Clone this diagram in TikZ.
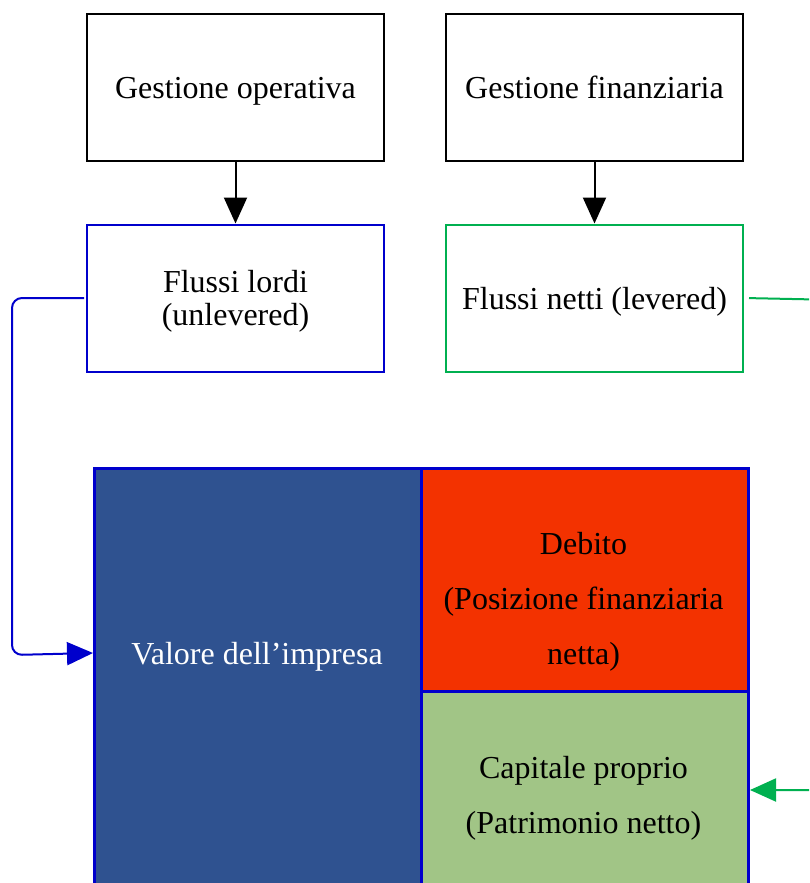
\documentclass[tikz,border=0pt]{standalone}
\usepackage{fontspec}
\setmainfont{Liberation Serif}
\usetikzlibrary{positioning, calc, arrows.meta}

\definecolor{lordiblue}{HTML}{0000CC}
\definecolor{nettigreen}{HTML}{00B050}
\definecolor{valoreblue}{HTML}{2F5290}
\definecolor{debitored}{HTML}{F33200}
\definecolor{capitalegreen}{HTML}{A1C586}

\tikzset{
  box/.style={draw, line width=2pt, minimum width=297pt, minimum height=147pt,
    align=center, inner sep=0pt, text depth=0pt, font=\fontsize{32}{33}\selectfont},
  cell/.style={draw=lordiblue, line width=3pt, minimum width=327pt, inner sep=0pt},
  celltext/.style={align=center, inner sep=0pt, text depth=0pt, font=\fontsize{32}{55}\selectfont},
  link/.style={line width=2pt, -{Triangle[length=26pt,width=23pt]}},
}

\begin{document}
\begin{tikzpicture}[x=1pt, y=-1pt]
    \useasboundingbox (0,0) rectangle (809,883);
    \clip (0,0) rectangle (809,883);

    % Gestione
    \node[box] (operativa) at (235.5,87.5) {Gestione operativa};
    \node[box] (finanziaria) at (594.5,87.5) {Gestione finanziaria};

    % Flussi
    \node[box, draw=lordiblue] (lordi) at (235.5,298) {Flussi lordi\\(unlevered)};
    \node[box, draw=nettigreen] (netti) at (594.5,298) {Flussi netti (levered)};

    \draw[link] (operativa) -- (lordi);
    \draw[link] (finanziaria) -- (netti);

    % Stato patrimoniale
    \node[cell, fill=valoreblue, minimum height=560pt, anchor=north west] (valore) at (93,467) {};
    \node[cell, fill=debitored, minimum height=223pt, anchor=north west] (debito) at (420,467) {};
    \node[cell, fill=capitalegreen, minimum height=400pt, anchor=north west] (capitale) at (420,690) {};

    \node[celltext, text=white] (valoretxt) at (257,653) {Valore dell'impresa};
    \node[celltext] (debitotxt) at (583.5,598.5) {Debito\\(Posizione finanziaria\\netta)};
    \node[celltext] (capitaletxt) at (583.5,795) {Capitale proprio\\(Patrimonio netto)};

    % Collegamenti
    \coordinate (capin) at ($(capitale.north east)+(0,100)$);
    \draw[link, lordiblue, rounded corners=10pt, shorten <=2pt]
        (lordi.west) -- (12,298) -- (12,655) -- (valore.west |- valoretxt);
    \draw[link, nettigreen, rounded corners=10pt, shorten <=5pt]
        (netti.east) -- (840,300) -- (840,790) -- (capin);
\end{tikzpicture}
\end{document}
